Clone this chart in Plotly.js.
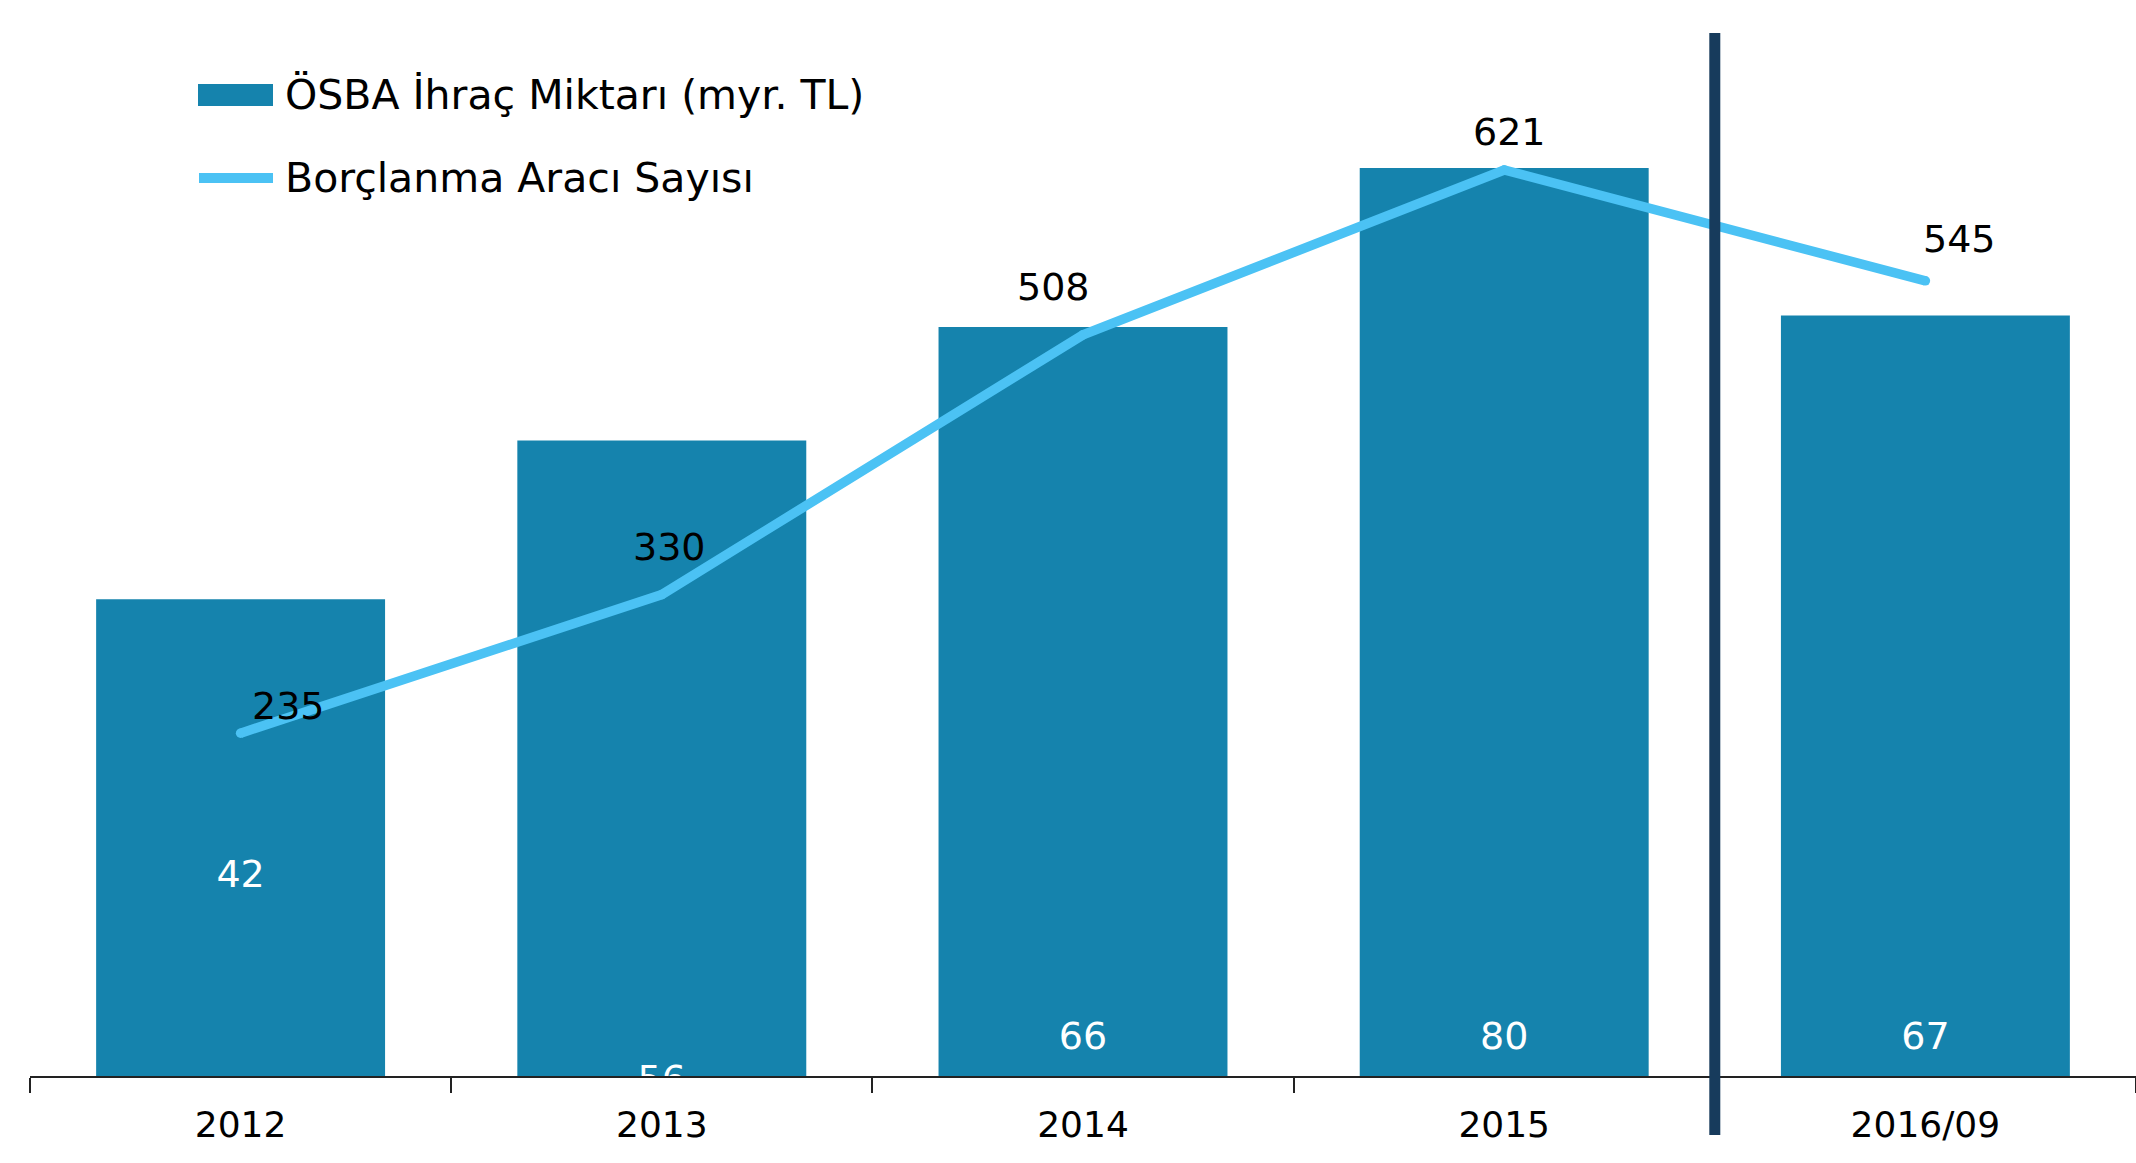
<!DOCTYPE html>
<html><head><meta charset="utf-8">
<script src="https://cdn.plot.ly/plotly-3.0.1.min.js"></script>
<style>html,body{margin:0;padding:0;background:#fff}#chart{width:2136px;height:1163px}</style>
</head><body><div id="chart"></div>
<script>
// ---- data ----
const categories = ['2012', '2013', '2014', '2015', '2016/09'];
const issuanceAmount = [42, 56, 66, 80, 67];          // ÖSBA İhraç Miktarı (myr. TL)
const instrumentCount = [235, 330, 508, 621, 545];    // Borçlanma Aracı Sayısı
const barName = 'ÖSBA İhraç Miktarı (myr. TL)';
const lineName = 'Borçlanma Aracı Sayısı';

// ---- layout helpers (positions / styles) ----
const barLabelY = [17.5, -0.6, 3.2, 3.2, 3.2];          // where the white bar labels sit (bar-axis units)
const lineLabelShift = [[48, 27], [8, 48], [-30, 48], [5, 38], [34, 42]]; // px offsets of line labels
const FONT = 'DejaVu Sans, Verdana, sans-serif';
const BAR_COLOR = '#1583AD';
const LINE_COLOR = '#4BC2F4';
const DIVIDER_COLOR = '#173B5C';

const W = 2136, H = 1163, ML = 30, MR = 0, MT = 0, MB = 87;
const plotW = W - ML - MR, plotH = H - MT - MB;
const px2x = p => (p - ML) / plotW;
const px2y = p => (H - MB - p) / plotH;

const traces = [
  {
    type: 'bar', name: barName, x: categories, y: issuanceAmount,
    marker: {color: BAR_COLOR, line: {width: 0}}, yaxis: 'y', hoverinfo: 'x+y', showlegend: false
  },
  {
    type: 'scatter', mode: 'text', x: categories, y: barLabelY,
    text: issuanceAmount.map(String), textposition: 'middle center',
    textfont: {family: FONT, size: 38, color: '#ffffff'}, cliponaxis: true,
    yaxis: 'y', hoverinfo: 'skip', showlegend: false
  },
  {
    type: 'scatter', mode: 'lines+markers', name: lineName, x: categories, y: instrumentCount,
    line: {color: LINE_COLOR, width: 9.5}, marker: {color: LINE_COLOR, size: 9.5},
    yaxis: 'y2', showlegend: false, cliponaxis: false
  }
];

// annotations on a category axis take the category serial number
const annotations = instrumentCount.map((v, i) => ({
  x: i, y: v, xref: 'x', yref: 'y2', text: String(v), showarrow: false,
  xshift: lineLabelShift[i][0], yshift: lineLabelShift[i][1],
  font: {family: FONT, size: 38, color: '#000000'}
}));
// manual legend labels
annotations.push(
  {xref: 'paper', yref: 'paper', x: px2x(283), y: px2y(95), xanchor: 'left', yanchor: 'middle',
   text: barName, showarrow: false, font: {family: FONT, size: 41, color: '#000000'}},
  {xref: 'paper', yref: 'paper', x: px2x(283), y: px2y(178), xanchor: 'left', yanchor: 'middle',
   text: lineName, showarrow: false, font: {family: FONT, size: 41, color: '#000000'}}
);

const shapes = [
  // divider between 2015 and 2016/09
  {type: 'line', xref: 'x', yref: 'paper', x0: 3.5, x1: 3.5, y0: px2y(1135), y1: px2y(33),
   line: {color: DIVIDER_COLOR, width: 11}, layer: 'above'},
  // legend swatches
  {type: 'rect', xref: 'paper', yref: 'paper', x0: px2x(198), x1: px2x(273), y0: px2y(106), y1: px2y(84),
   fillcolor: BAR_COLOR, line: {width: 0}},
  {type: 'line', xref: 'paper', yref: 'paper', x0: px2x(199), x1: px2x(273), y0: px2y(178), y1: px2y(178),
   line: {color: LINE_COLOR, width: 10}}
];

const layout = {
  width: W, height: H,
  margin: {l: ML, r: MR, t: MT, b: MB, pad: 0},
  paper_bgcolor: '#ffffff', plot_bgcolor: '#ffffff',
  font: {family: FONT, color: '#000000'},
  showlegend: false,
  bargap: 0.314,
  xaxis: {
    type: 'category', range: [-0.5, 4.5], autorange: false,
    showline: true, linecolor: '#222222', linewidth: 2,
    ticks: 'outside', tickson: 'boundaries', ticklen: 15, tickwidth: 2, tickcolor: '#222222',
    ticklabelstandoff: 16,
    tickfont: {family: FONT, size: 36, color: '#000000'}, tickangle: 0,
    showgrid: false, zeroline: false, fixedrange: true
  },
  yaxis: {range: [0, 94.8], visible: false, showgrid: false, zeroline: false, fixedrange: true},
  yaxis2: {range: [0, 737.5], overlaying: 'y', side: 'right', visible: false, showgrid: false, zeroline: false, fixedrange: true},
  annotations: annotations,
  shapes: shapes
};

Plotly.newPlot('chart', traces, layout, {displayModeBar: false, staticPlot: true});
</script>
</body></html>
